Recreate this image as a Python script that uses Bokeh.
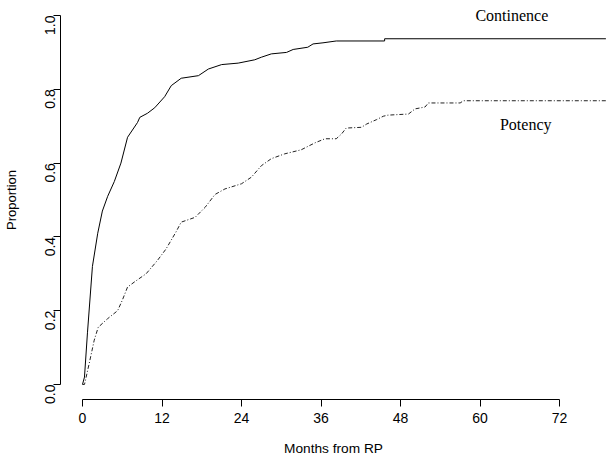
import math
from bokeh.plotting import figure
from bokeh.models import Range1d, FixedTicker, ColumnDataSource
from bokeh.core.properties import value
from bokeh.embed import file_html
from bokeh.resources import INLINE

# ---- data ----
cont_months = [0, 0.3, 0.75, 1.5, 2.3, 3.0, 3.8, 4.8, 5.8, 6.8, 8.3, 8.65, 9.8, 10.9,
               12.4, 13.4, 14.9, 17.5, 19.0, 21.0, 23.5, 26.0, 27.0, 28.5, 30.8, 31.8,
               34.0, 34.8, 36.3, 38.3, 45.6, 45.6, 79.0]
cont_prop = [0, 0.02, 0.14, 0.32, 0.41, 0.47, 0.51, 0.55, 0.60, 0.67, 0.71, 0.724, 0.735, 0.75,
             0.78, 0.81, 0.83, 0.837, 0.855, 0.867, 0.871, 0.88, 0.887, 0.896, 0.90, 0.908,
             0.914, 0.923, 0.926, 0.931, 0.931, 0.937, 0.937]

pot_months = [0, 0.3, 1.0, 1.77, 2.37, 3.77, 5.3, 6.0, 6.8, 8.0, 9.6, 11.3, 12.6, 14.1,
              14.9, 17.0, 18.5, 20.0, 21.5, 24.0, 25.5, 27.0, 28.5, 30.5, 33.0, 35.1,
              36.6, 38.3, 39.1, 39.8, 42.1, 42.9, 44.4, 45.4, 46.1, 49.2, 50.2, 51.7,
              52.2, 57.0, 57.5, 79.0]
pot_prop = [0, 0.0, 0.056, 0.12, 0.155, 0.178, 0.20, 0.228, 0.264, 0.28, 0.30, 0.336, 0.367, 0.413,
            0.44, 0.453, 0.48, 0.515, 0.53, 0.544, 0.562, 0.593, 0.612, 0.625, 0.636, 0.655,
            0.666, 0.666, 0.679, 0.695, 0.697, 0.706, 0.718, 0.727, 0.73, 0.733, 0.747, 0.752,
            0.763, 0.763, 0.769, 0.769]

x_ticks = [0, 12, 24, 36, 48, 60, 72]
y_ticks = [0.0, 0.2, 0.4, 0.6, 0.8, 1.0]
y_tick_labels = ["0.0", "0.2", "0.4", "0.6", "0.8", "1.0"]

labels_text = ["Continence", "Potency"]
labels_x = [64.8, 66.9]
labels_y = [1.0, 0.705]

AX_FONT = "Liberation Sans"
SERIF = "Liberation Serif"

p = figure(width=612, height=463, output_backend="svg", toolbar_location=None,
           x_range=Range1d(-3.32, 79.09), y_range=Range1d(-0.0407, 1.0407),
           frame_width=546, frame_height=399,
           min_border_left=59, min_border_right=7, min_border_top=0, min_border_bottom=64)
p.outline_line_color = None
p.grid.visible = False
p.background_fill_color = "white"
p.border_fill_color = "white"

p.line(cont_months, cont_prop, line_color="black", line_width=1)
p.line(pot_months, pot_prop, line_color="#222222", line_width=1, line_dash="4 2 1 2")

src = ColumnDataSource(dict(x=labels_x, y=labels_y, t=labels_text))
p.text(x="x", y="y", text="t", source=src, text_font=value(SERIF), text_font_size="16px",
       text_align="center", text_baseline="middle", text_color="black")

# x axis
xa = p.xaxis[0]
xa.ticker = FixedTicker(ticks=x_ticks)
xa.bounds = (x_ticks[0], x_ticks[-1])
xa.axis_label = "Months from RP"
# y axis
ya = p.yaxis[0]
ya.ticker = FixedTicker(ticks=y_ticks)
ya.bounds = (y_ticks[0], y_ticks[-1])
ya.major_label_overrides = {t: l for t, l in zip(y_ticks, y_tick_labels)}
ya.axis_label = "Proportion"
ya.major_label_orientation = math.pi / 2

for ax in (xa, ya):
    ax.axis_line_color = "black"
    ax.axis_line_width = 1
    ax.major_tick_line_color = "black"
    ax.major_tick_out = 7
    ax.major_tick_in = 0
    ax.minor_tick_line_color = None
    ax.major_label_text_font = AX_FONT
    ax.major_label_text_font_size = "14px"
    ax.major_label_text_color = "black"
    ax.axis_label_text_font = AX_FONT
    ax.axis_label_text_font_style = "normal"
    ax.axis_label_text_color = "black"

xa.axis_label_text_font_size = "13.7px"
ya.axis_label_text_font_size = "13px"
xa.major_label_standoff = 6
xa.axis_label_standoff = 15
ya.major_label_standoff = 3
ya.axis_label_standoff = 19

open("out.html", "w").write(file_html(p, INLINE))
